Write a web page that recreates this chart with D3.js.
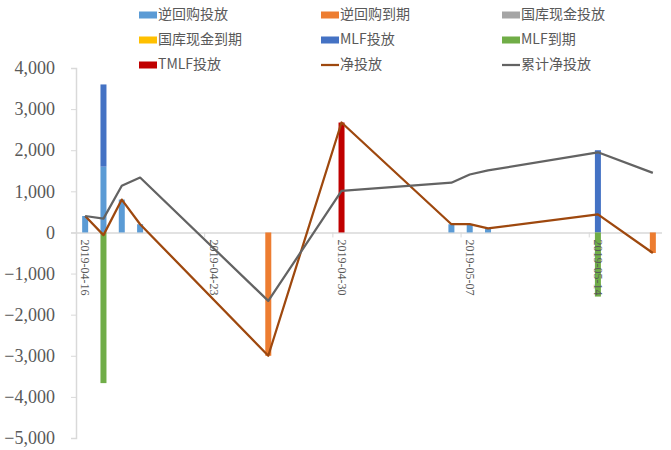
<!DOCTYPE html>
<html>
<head>
<meta charset="utf-8">
<script src="https://cdn.jsdelivr.net/npm/d3@7"></script>
<style>
  body { margin: 0; background: #fff; }
  svg { display: block; }
</style>
</head>
<body>
<div id="chart"></div>
<script>
// dates with operations (trading days only)
const dates = ["2019-04-16","2019-04-17","2019-04-18","2019-04-19","2019-04-26","2019-04-30",
               "2019-05-06","2019-05-07","2019-05-08","2019-05-14","2019-05-17"];

const repoIn   = [400, 1600, 800, 200, 0, 0, 200, 200, 100, 0, 0];
const repoOut  = [0, 0, 0, 0, -3000, 0, 0, 0, 0, 0, -500];
const cashIn   = [0, 0, 0, 0, 0, 0, 0, 0, 0, 0, 0];
const cashOut  = [0, 0, 0, 0, 0, 0, 0, 0, 0, 0, 0];
const mlfIn    = [0, 2000, 0, 0, 0, 0, 0, 0, 0, 2000, 0];
const mlfOut   = [0, -3665, 0, 0, 0, 0, 0, 0, 0, -1560, 0];
const tmlfIn   = [0, 0, 0, 0, 0, 2674, 0, 0, 0, 0, 0];

const netInject = [400, -65, 800, 200, -3000, 2674, 200, 200, 100, 440, -500];
const cumInject = [400, 335, 1135, 1335, -1665, 1009, 1209, 1409, 1509, 1949, 1449];

const barNames = ["逆回购投放","逆回购到期","国库现金投放","国库现金到期","MLF投放","MLF到期","TMLF投放"];
const barColors = ["#5B9BD5","#ED7D31","#A5A5A5","#FFC000","#4472C4","#70AD47","#C00000"];
const lineNames = ["净投放","累计净投放"];
const lineColors = ["#9E480E","#636363"];

const tickDates = ["2019-04-16","2019-04-23","2019-04-30","2019-05-07","2019-05-14"];
const yTicks = [4000,3000,2000,1000,0,-1000,-2000,-3000,-4000,-5000];

const width = 671, height = 450;
const margin = {left: 76, right: 9, top: 68, bottom: 12};
const serif = "'Liberation Serif', 'DejaVu Serif', 'Times New Roman', serif";

const parse = d3.timeParse("%Y-%m-%d");
const barSeries = [repoIn, repoOut, cashIn, cashOut, mlfIn, mlfOut, tmlfIn];

let rows = dates.map((d, i) => {
    let r = {date: parse(d)};
    barNames.forEach((k, j) => r[k] = barSeries[j][i]);
    return r;
});

let svg = d3.select("#chart").append("svg")
            .attr("width", width)
            .attr("height", height);

let xScale = d3.scaleTime()
               .domain([parse("2019-04-16"), parse("2019-05-18")])
               .range([margin.left, width - margin.right]);

let yScale = d3.scaleLinear()
               .domain([-5000, 4000])
               .range([height - margin.bottom, margin.top]);

// centre of the day slot
const xc = d => xScale(d3.timeHour.offset(d, 12));

// y axis
let yAxis = svg.append("g")
    .attr("transform", `translate(${margin.left},0)`)
    .call(d3.axisLeft(yScale).tickValues(yTicks).tickSize(5).tickPadding(16)
            .tickFormat(d3.format(",")))
    .attr("font-family", serif)
    .attr("font-size", 18);
yAxis.select(".domain").attr("stroke", "#d9d9d9").attr("stroke-width", 1.5);
yAxis.selectAll(".tick line").attr("stroke", "#d9d9d9");
yAxis.selectAll(".tick text").attr("fill", "#595959");

// x axis on zero line
let xAxis = svg.append("g")
    .attr("transform", `translate(0,${yScale(0)})`)
    .call(d3.axisBottom(xScale).tickValues(tickDates.map(parse)).tickSize(5)
            .tickFormat(""));
xAxis.select(".domain").attr("stroke", "#d9d9d9").attr("stroke-width", 1.5)
     .attr("d", `M${margin.left - 5},0.5H${width - margin.right}`);
xAxis.selectAll(".tick line").attr("stroke", "#d9d9d9");

// stacked bars
let stacked = d3.stack().keys(barNames).offset(d3.stackOffsetDiverging)(rows);
const barW = 6;

svg.append("g").selectAll("g")
    .data(stacked)
    .join("g")
    .attr("fill", (d, i) => barColors[i])
    .selectAll("rect")
    .data(d => d.filter(p => p[1] - p[0] !== 0))
    .join("rect")
    .attr("x", p => xc(p.data.date) - barW / 2)
    .attr("width", barW)
    .attr("y", p => yScale(Math.max(p[0], p[1])))
    .attr("height", p => Math.abs(yScale(p[0]) - yScale(p[1])));

// date labels drawn over the bars
svg.append("g")
    .attr("font-family", serif)
    .attr("font-size", 12)
    .selectAll("text")
    .data(tickDates)
    .join("text")
    .attr("transform", d => `translate(${xc(parse(d)) - 1},${yScale(0) + 7}) rotate(90)`)
    .attr("dominant-baseline", "middle")
    .attr("fill", "#595959")
    .text(d => d);

// lines
let linegen = d3.line()
    .x((v, i) => xc(parse(dates[i])))
    .y(v => yScale(v));

[netInject, cumInject].forEach((s, i) => {
    svg.append("path")
        .attr("d", linegen(s))
        .attr("stroke", lineColors[i])
        .attr("stroke-width", 2.25)
        .attr("stroke-linejoin", "round")
        .attr("fill", "none");
});

// legend
const legendItems = barNames.map((n, i) => ({name: n, color: barColors[i], type: "bar"}))
    .concat(lineNames.map((n, i) => ({name: n, color: lineColors[i], type: "line"})));
const colX = [139, 321, 502];
const rowY = [15, 40, 65];

let legend = svg.append("g").selectAll("g")
    .data(legendItems)
    .join("g")
    .attr("transform", (d, i) => `translate(${colX[i % 3]},${rowY[Math.floor(i / 3)]})`);

legend.filter(d => d.type === "bar").append("rect")
    .attr("x", 0).attr("y", -3.5)
    .attr("width", 18).attr("height", 7)
    .attr("fill", d => d.color);

legend.filter(d => d.type === "line").append("line")
    .attr("x1", 0).attr("x2", 18)
    .attr("stroke", d => d.color)
    .attr("stroke-width", 2.25);

legend.append("text")
    .attr("x", 19)
    .attr("dominant-baseline", "middle")
    .attr("font-family", "'Noto Sans CJK SC', 'Noto Sans', sans-serif")
    .attr("font-size", "14px")
    .attr("fill", "#595959")
    .text(d => d.name);
</script>
</body>
</html>
